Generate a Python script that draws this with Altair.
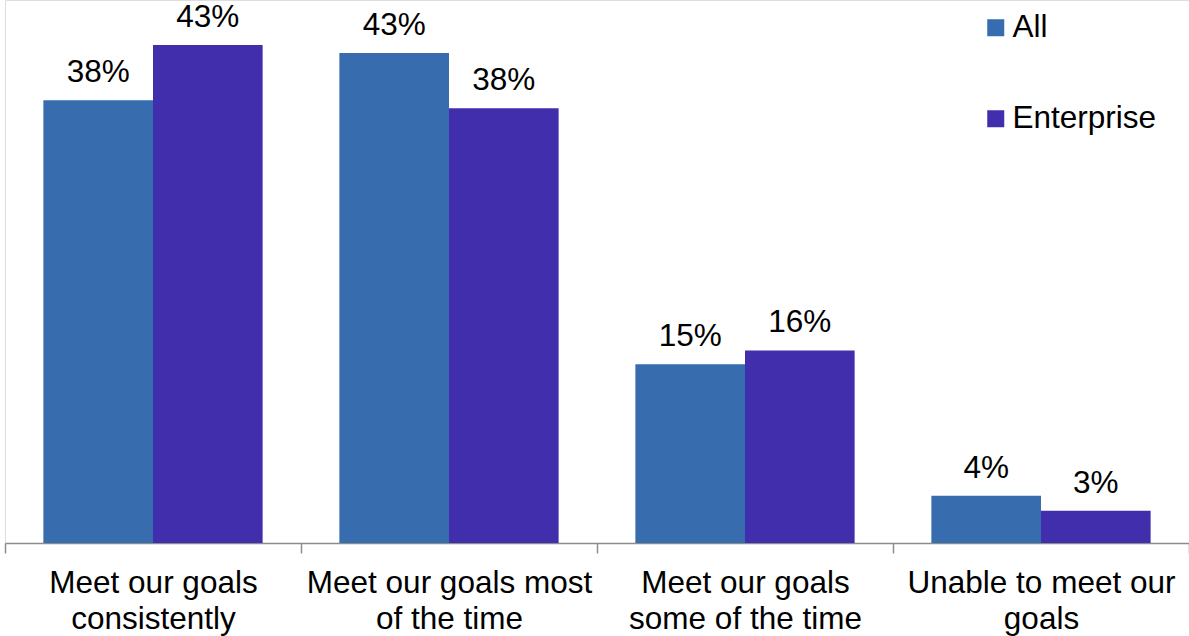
import altair as alt
import pandas as pd

categories = [
    "Meet our goals\nconsistently",
    "Meet our goals most\nof the time",
    "Meet our goals\nsome of the time",
    "Unable to meet our\ngoals",
]
series = ["All", "Enterprise"]
all_values = [38.4, 42.5, 15.5, 4.1]
enterprise_values = [43.2, 37.7, 16.7, 2.8]
all_labels = ["38%", "43%", "15%", "4%"]
enterprise_labels = ["43%", "38%", "16%", "3%"]
colors = ["#376DAE", "#412EAD"]

rows = []
for i, c in enumerate(categories):
    rows.append({"category": c, "series": "All", "value": all_values[i], "label": all_labels[i]})
    rows.append({"category": c, "series": "Enterprise", "value": enterprise_values[i], "label": enterprise_labels[i]})
df = pd.DataFrame(rows)

FONT = "Liberation Sans"

x_enc = alt.X(
    "category:N",
    sort=categories,
    title=None,
    scale=alt.Scale(paddingInner=0, paddingOuter=0),
    axis=alt.Axis(
        labelExpr="split(datum.label, '\\n')",
        labelAngle=0,
        labelLimit=0,
        labelFont=FONT,
        labelFontSize=31.5,
        labelColor="#000000",
        labelLineHeight=36,
        labelPadding=14,
        tickBand="extent",
        tickSize=10,
        tickColor="#8C8C8C",
        tickWidth=1.5,
        domainColor="#8C8C8C",
        domainWidth=1.5,
        grid=False,
    ),
)
xoff = alt.XOffset("series:N", sort=series, scale=alt.Scale(paddingInner=0, paddingOuter=0.35))
y_enc = alt.Y("value:Q", scale=alt.Scale(domain=[0, 47.1], nice=False, zero=True), axis=None)

bars = alt.Chart(df).mark_bar().encode(
    x=x_enc,
    xOffset=xoff,
    y=y_enc,
    color=alt.Color(
        "series:N",
        sort=series,
        scale=alt.Scale(domain=series, range=colors),
        legend=alt.Legend(
            title=None,
            orient="none",
            legendX=975,
            legendY=12,
            symbolType="square",
            symbolSize=289,
            symbolStrokeWidth=0,
            labelFont=FONT,
            labelFontSize=31.5,
            labelColor="#000000",
            labelOffset=1,
            rowPadding=58,
            padding=0,
        ),
    ),
)

texts = alt.Chart(df).mark_text(
    font=FONT, fontSize=31.5, color="#000000", baseline="alphabetic", dy=-18
).encode(
    x=alt.X("category:N", sort=categories),
    xOffset=xoff,
    y=y_enc,
    text="label:N",
)

chart = (
    alt.layer(bars, texts)
    .properties(
        width=1184,
        height=543,
        padding={"left": 5, "top": 0, "right": 0, "bottom": 93},
        autosize=alt.AutoSizeParams(type="none"),
    )
    .configure_view(stroke=None)
    .configure(background="white")
)

chart.save("out.html", embed_options={"renderer": "svg", "actions": False})
